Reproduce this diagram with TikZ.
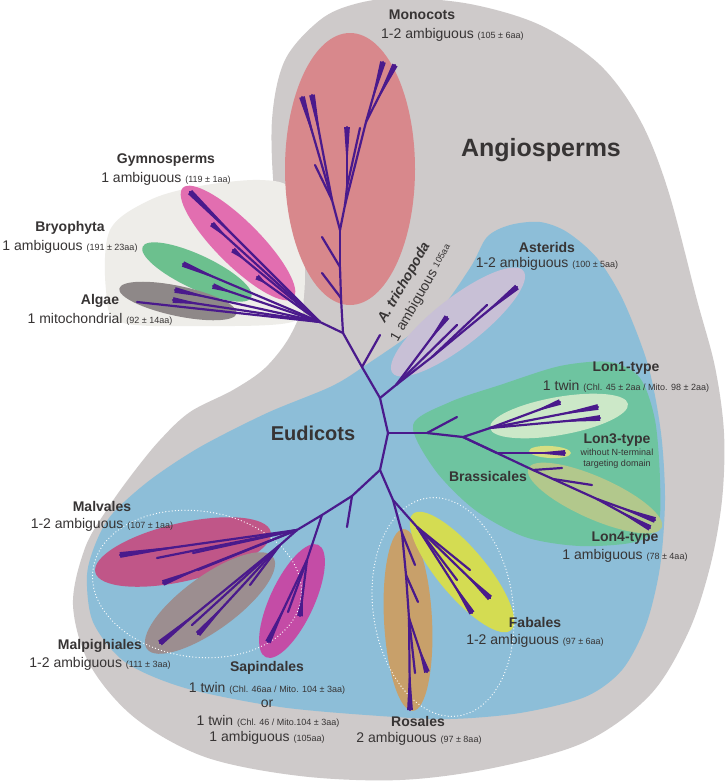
\documentclass[tikz,border=0pt]{standalone}
\usepackage{fontspec}
\setmainfont{Liberation Sans}
\usetikzlibrary{calc}
\definecolor{angio}{RGB}{206,202,202}
\definecolor{pale}{RGB}{238,237,233}
\definecolor{eudi}{RGB}{141,190,216}
\definecolor{brass}{RGB}{110,196,160}
\definecolor{lonone}{RGB}{204,232,200}
\definecolor{lonthree}{RGB}{214,222,130}
\definecolor{lonfour}{RGB}{178,200,140}
\definecolor{mono}{RGB}{216,136,140}
\definecolor{gymno}{RGB}{226,110,176}
\definecolor{bryo}{RGB}{108,192,142}
\definecolor{algae}{RGB}{142,136,136}
\definecolor{aster}{RGB}{200,192,214}
\definecolor{malv}{RGB}{192,86,136}
\definecolor{malp}{RGB}{156,142,144}
\definecolor{sapi}{RGB}{196,76,166}
\definecolor{rosa}{RGB}{200,160,106}
\definecolor{faba}{RGB}{212,220,82}
\definecolor{treeline}{RGB}{74,26,140}
\definecolor{txt}{RGB}{55,52,52}
\newcommand\fsL{\fontsize{14}{16}\selectfont}
\newcommand\fsS{\fontsize{9}{11}\selectfont}
\newcommand\twig[2]{\draw[branch] (#1) -- (#2);}
\newcommand\clade[3][0.5]{\draw[branch] (#2) -- (#3);
  \fill[treeline] ($(#2)!#1!(#3)$) -- ($(#3)!2.9pt!90:(#2)$) -- ($(#3)!2.9pt!-90:(#2)$) -- cycle;}
\begin{document}
\begin{tikzpicture}[x=1pt,y=-1pt,
  branch/.style={draw=treeline, line width=2.2pt, line cap=round, line join=round},
  lbl/.style={text=txt, inner sep=0pt, align=center},
  dotring/.style={draw=white, line width=1.3pt, dash pattern=on 0pt off 3.2pt, line cap=round}]
\useasboundingbox (0,0) rectangle (727,782);
\fill[white] (0,0) rectangle (727,782);
% Angiosperms region
\fill[angio] plot[smooth cycle, tension=0.55] coordinates {
 (400,-2) (470,4) (540,25) (600,65) (640,120) (668,190) (697,300) (715,367) (724,433) (722,500)
 (710,567) (688,633) (650,695) (585,742) (493,768) (400,780) (300,776) (205,757) (135,718)
 (90,665) (73,605) (85,548) (108,508) (133,473) (160,440) (190,412) (233,390) (265,368)
 (290,336) (302,300) (288,255) (275,200) (272,120) (285,60) (320,20) (355,4)};
% pale region (non-angiosperms)
\fill[pale] plot[smooth cycle, tension=0.55] coordinates {
 (110,230) (150,200) (200,186) (260,180) (292,190) (303,240) (304,295) (292,322) (200,326) (120,322) (106,290)};
% Eudicots region
\fill[eudi] plot[smooth cycle, tension=0.5] coordinates {
 (487,237) (510,225) (540,222) (567,232) (597,258) (623,300) (648,365) (661,433) (665,500)
 (660,567) (646,625) (622,670) (585,697) (520,713) (450,719) (380,716) (280,707) (185,688)
 (125,662) (93,622) (87,575) (97,540) (113,513) (150,480) (200,447) (267,413) (330,387)
 (363,367) (433,317) (470,268)};
% Brassicales region
\fill[brass] plot[smooth cycle, tension=0.5] coordinates {
 (413,425) (450,402) (500,385) (560,366) (610,362) (640,378) (655,420) (660,480) (658,525)
 (635,542) (580,546) (525,537) (475,510) (435,470)};
% clade ellipses
\fill[mono] (350,169) ellipse [x radius=65pt, y radius=136pt];
\fill[gymno, rotate around={-45:(238,243)}] (238,243) ellipse [x radius=78pt, y radius=22pt];
\fill[bryo, rotate around={-25:(197,272)}] (197,272) ellipse [x radius=60pt, y radius=17pt];
\fill[algae, rotate around={-12:(178,301)}] (178,301) ellipse [x radius=60pt, y radius=15pt];
\fill[aster, rotate around={38:(458,322)}] (458,322) ellipse [x radius=83pt, y radius=24pt];
\fill[lonone, rotate around={10:(559,416)}] (559,416) ellipse [x radius=70pt, y radius=19pt];
\fill[lonthree, rotate around={-3:(550,452)}] (550,452) ellipse [x radius=21pt, y radius=6pt];
\fill[lonfour, rotate around={-24:(595,498)}] (595,498) ellipse [x radius=73pt, y radius=21pt];
\fill[malv, rotate around={13:(183,552)}] (183,552) ellipse [x radius=90pt, y radius=29pt];
\fill[malp, rotate around={36:(210,603)}] (210,603) ellipse [x radius=78pt, y radius=27pt];
\fill[sapi, rotate around={65:(292,601)}] (292,601) ellipse [x radius=62pt, y radius=22pt];
\fill[rosa, rotate around={3:(408,620)}] (408,620) ellipse [x radius=24pt, y radius=91pt];
\fill[faba, rotate around={-50:(462,572)}] (462,572) ellipse [x radius=76pt, y radius=24pt];
% dotted groups
\draw[dotring, rotate around={-8:(197,584)}] (197,584) ellipse [x radius=105pt, y radius=73pt];
\draw[dotring, rotate around={8:(443,607)}] (443,607) ellipse [x radius=70pt, y radius=110pt];
% ---------- tree coordinates ----------
\coordinate (r0) at (343,333);
\coordinate (g0) at (320,322);
\coordinate (gy1) at (190,192); \coordinate (gy2) at (212,224);
\coordinate (gy3) at (233,250); \coordinate (gy4) at (257,277);
\coordinate (by1) at (183,264); \coordinate (by2) at (213,286);
\coordinate (al1) at (175,290); \coordinate (al2) at (137,302); \coordinate (al3) at (173,300);
\coordinate (mb2a) at (341,298); \coordinate (mb2) at (322,273);
\coordinate (mb1a) at (340,267); \coordinate (mb1) at (322,237);
\coordinate (m0) at (340,230);
\coordinate (ml) at (332,200); \coordinate (mlt1) at (302,97); \coordinate (mlt2) at (312,95); \coordinate (mlt3) at (315,165);
\coordinate (mc) at (345,205); \coordinate (mm) at (347,187); \coordinate (mmt1) at (347,127); \coordinate (mmt2) at (360,128);
\coordinate (mr) at (366,122); \coordinate (mrt1) at (383,62); \coordinate (mrt2) at (395,65);
\coordinate (e1) at (362,367); \coordinate (at) at (380,335);
\coordinate (e2) at (380,398); \coordinate (as0) at (396,385);
\coordinate (ast1) at (447,317); \coordinate (ast2) at (457,325);
\coordinate (as1) at (432,357); \coordinate (ast3) at (517,287); \coordinate (ast4) at (487,305);
\coordinate (e3) at (388,433); \coordinate (b1) at (427,433); \coordinate (b1s) at (457,417);
\coordinate (b2) at (463,437); \coordinate (l1a) at (490,428);
\coordinate (l1t1) at (560,402); \coordinate (l1t2) at (598,407); \coordinate (l1t3) at (600,418);
\coordinate (b3) at (497,453); \coordinate (l3t) at (565,453);
\coordinate (b4) at (533,470); \coordinate (b4t) at (562,468);
\coordinate (b5) at (553,479); \coordinate (b5t) at (592,485);
\coordinate (b6) at (597,499); \coordinate (l4t1) at (655,520); \coordinate (l4t2) at (650,528);
\coordinate (e4) at (380,470); \coordinate (rf) at (393,500);
\coordinate (h1) at (352,496); \coordinate (stub) at (347,527);
\coordinate (g1) at (322,515); \coordinate (mv0) at (297,530);
\coordinate (mvt1) at (120,555); \coordinate (mvt2) at (157,558); \coordinate (mvt3) at (193,553);
\coordinate (mvt4) at (163,583); \coordinate (mvt5) at (198,570);
\coordinate (mp0) at (280,545);
\coordinate (mpt1) at (160,643); \coordinate (mpt2) at (192,625); \coordinate (mpt3) at (198,634); \coordinate (mpt4) at (250,585);
\coordinate (sp0) at (307,560);
\coordinate (spt1) at (268,642); \coordinate (spt2) at (288,612); \coordinate (spt3) at (300,616);
\coordinate (ro0) at (402,533); \coordinate (ro1) at (406,575); \coordinate (ro2) at (409,618);
\coordinate (rot1) at (410,710); \coordinate (rot2) at (415,565); \coordinate (rot3) at (418,602);
\coordinate (rot4) at (427,672); \coordinate (rot5) at (415,673);
\coordinate (fa0) at (417,527);
\coordinate (fat1) at (490,598); \coordinate (fat2) at (472,613); \coordinate (fat3) at (470,570); \coordinate (fat4) at (457,580);
% ---------- tree ----------
\twig{r0}{g0}
\clade[0.55]{g0}{gy1} \clade[0.85]{g0}{gy2} \clade[0.85]{g0}{gy3} \clade[0.85]{g0}{gy4}
\clade[0.7]{g0}{by1} \clade[0.8]{g0}{by2}
\clade[0.75]{g0}{al1} \twig{g0}{al2} \clade[0.8]{g0}{al3}
\twig{r0}{mb2a} \twig{mb2a}{mb1a} \twig{mb1a}{m0} \twig{mb2a}{mb2} \twig{mb1a}{mb1}
\twig{m0}{ml} \clade[0.55]{ml}{mlt1} \clade[0.55]{ml}{mlt2} \twig{ml}{mlt3}
\twig{m0}{mc} \twig{mc}{mm} \clade[0.3]{mm}{mmt1} \twig{mm}{mmt2}
\twig{mc}{mr} \clade[0.25]{mr}{mrt1} \clade[0.25]{mr}{mrt2}
\twig{r0}{e1} \twig{e1}{at} \twig{e1}{e2}
\twig{e2}{as0} \clade[0.6]{as0}{ast1} \twig{as0}{ast2} \twig{as0}{as1}
\clade[0.55]{as1}{ast3} \twig{as1}{ast4}
\twig{e2}{e3} \twig{e3}{b1} \twig{b1}{b1s} \twig{b1}{b2}
\twig{b2}{l1a} \clade[0.6]{l1a}{l1t1} \clade[0.6]{l1a}{l1t2} \clade[0.6]{l1a}{l1t3}
\twig{b2}{b3} \clade[0.55]{b3}{l3t}
\twig{b2}{b4} \twig{b4}{b4t} \twig{b4}{b5} \twig{b5}{b5t} \twig{b5}{b6}
\clade[0.3]{b6}{l4t1} \clade[0.3]{b6}{l4t2}
\twig{e3}{e4} \twig{e4}{rf} \twig{e4}{h1} \twig{h1}{stub} \twig{h1}{g1}
\twig{g1}{sp0} \clade[0.5]{sp0}{spt1} \twig{sp0}{spt2} \clade[0.6]{sp0}{spt3}
\twig{g1}{mv0} \clade[0.6]{mv0}{mvt1} \twig{mv0}{mvt2} \twig{mv0}{mvt3}
\clade[0.7]{mv0}{mvt4} \twig{mv0}{mvt5}
\twig{mv0}{mp0} \clade[0.6]{mp0}{mpt1} \twig{mp0}{mpt2} \clade[0.6]{mp0}{mpt3} \twig{mp0}{mpt4}
\twig{rf}{ro0} \twig{ro0}{ro1} \twig{ro1}{ro2} \clade[0.5]{ro2}{rot1}
\twig{ro0}{rot2} \twig{ro1}{rot3} \clade[0.5]{ro2}{rot4} \twig{ro2}{rot5}
\twig{rf}{fa0} \clade[0.6]{fa0}{fat1} \clade[0.6]{fa0}{fat2} \twig{fa0}{fat3} \twig{fa0}{fat4}
% ---------- labels ----------
\node[lbl, font=\fsL\bfseries] (tMono) at (422,15) {Monocots};
\node[lbl, anchor=west] (tMonoB) at (381,35) {\fsL 1-2 ambiguous \fsS(105 ± 6aa)};
\node[lbl, font=\fontsize{25}{28}\selectfont\bfseries] (tAngio) at (541,150) {Angiosperms};
\node[lbl, font=\fsL\bfseries] (tGym) at (166,160) {Gymnosperms};
\node[lbl] (tGymB) at (166,179) {\fsL 1 ambiguous \fsS(119 ± 1aa)};
\node[lbl, font=\fsL\bfseries] (tBry) at (70,228) {Bryophyta};
\node[lbl] (tBryB) at (70,247) {\fsL 1 ambiguous \fsS(191 ± 23aa)};
\node[lbl, font=\fsL\bfseries] (tAlg) at (100,301) {Algae};
\node[lbl] (tAlgB) at (100,319) {\fsL 1 mitochondrial \fsS(92 ± 14aa)};
\node[lbl, rotate=60, font=\fontsize{14}{20}\selectfont] (tAtr) at (413,288)
  {{\bfseries\itshape A. trichopoda}\\1 ambiguous \raisebox{2pt}{\fsS 105aa}};
\node[lbl, font=\fsL\bfseries] (tAst) at (547,247) {Asterids};
\node[lbl] (tAstB) at (547,264) {\fsL 1-2 ambiguous \fsS(100 ± 5aa)};
\node[lbl, font=\fsL\bfseries] (tL1) at (626,368) {Lon1-type};
\node[lbl] (tL1B) at (626,386) {\fsL 1 twin \fsS(Chl. 45 ± 2aa / Mito. 98 ± 2aa)};
\node[lbl, font=\fsL\bfseries] (tL3) at (617,440) {Lon3-type};
\node[lbl, font=\fsS] (tL3B) at (617,459) {without N-terminal\\targeting domain};
\node[lbl, font=\fsL\bfseries] (tBra) at (488,476) {Brassicales};
\node[lbl, font=\fsL\bfseries] (tL4) at (625,538) {Lon4-type};
\node[lbl] (tL4B) at (625,556) {\fsL 1 ambiguous \fsS(78 ± 4aa)};
\node[lbl, font=\fontsize{20}{23}\selectfont\bfseries] (tEud) at (313,433) {Eudicots};
\node[lbl, font=\fsL\bfseries] (tMalv) at (102,506) {Malvales};
\node[lbl] (tMalvB) at (102,525) {\fsL 1-2 ambiguous \fsS(107 ± 1aa)};
\node[lbl, font=\fsL\bfseries] (tMalp) at (100,646) {Malpighiales};
\node[lbl] (tMalpB) at (100,664) {\fsL 1-2 ambiguous \fsS(111 ± 3aa)};
\node[lbl, font=\fsL\bfseries] (tSap) at (267,668) {Sapindales};
\node[lbl] (tSapB) at (267,688) {\fsL 1 twin \fsS(Chl. 46aa / Mito. 104 ± 3aa)};
\node[lbl] (tSapC) at (267,704) {\fsL or};
\node[lbl] (tSapD) at (268,721) {\fsL 1 twin \fsS(Chl. 46 / Mito.104 ± 3aa)};
\node[lbl] (tSapE) at (267,738) {\fsL 1 ambiguous \fsS(105aa)};
\node[lbl, font=\fsL\bfseries] (tRos) at (418,721) {Rosales};
\node[lbl] (tRosB) at (419,739) {\fsL 2 ambiguous \fsS(97 ± 8aa)};
\node[lbl, font=\fsL\bfseries] (tFab) at (535,622) {Fabales};
\node[lbl] (tFabB) at (535,641) {\fsL 1-2 ambiguous \fsS(97 ± 6aa)};
\end{tikzpicture}
\end{document}
